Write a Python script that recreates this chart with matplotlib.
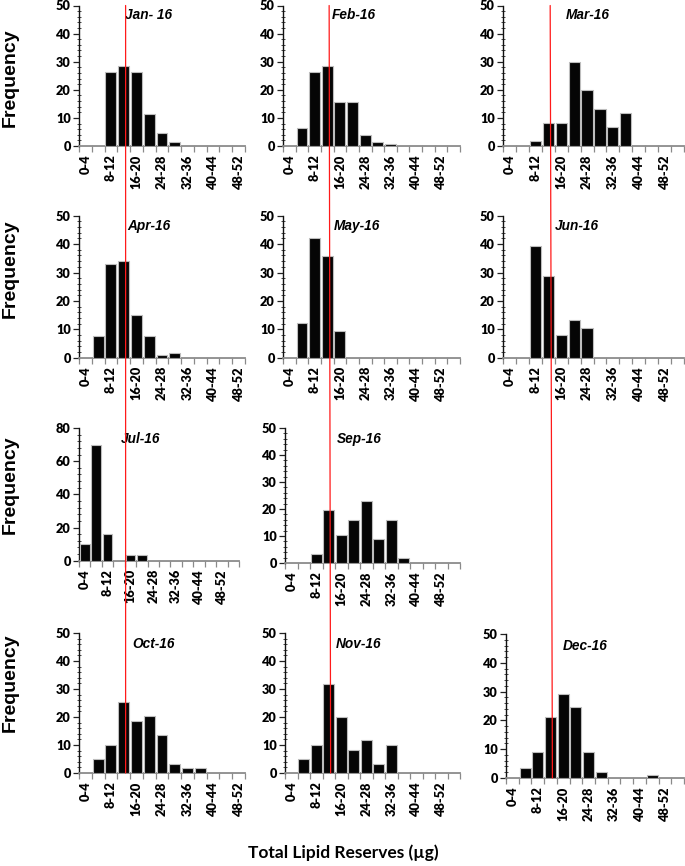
import matplotlib
matplotlib.use("Agg")
import matplotlib.pyplot as plt
from matplotlib.patches import ConnectionPatch
from matplotlib.ticker import MultipleLocator
import numpy as np

# ---------------- data ----------------
bin_labels = ["0-4", "4-8", "8-12", "12-16", "16-20", "20-24", "24-28",
              "28-32", "32-36", "36-40", "40-44", "44-48", "48-52", "52-56"]

months = ["Jan- 16", "Feb-16", "Mar-16", "Apr-16", "May-16", "Jun-16",
          "Jul-16", "Sep-16", "Oct-16", "Nov-16", "Dec-16"]

jan = [0, 0, 26.5, 28.4, 26.5, 11.4, 4.8, 1.4, 0, 0, 0, 0, 0]
feb = [0, 6.5, 26.5, 28.4, 15.7, 15.7, 4.0, 1.5, 0.8, 0, 0, 0, 0, 0]
mar = [0, 0, 1.7, 8.3, 8.3, 30.0, 20.0, 13.3, 6.7, 11.7, 0, 0, 0, 0]
apr = [0, 7.5, 33.0, 34.0, 15.0, 7.5, 1.0, 1.8, 0, 0, 0, 0, 0]
may = [0, 12.2, 42.3, 35.7, 9.3, 0, 0, 0, 0, 0, 0, 0, 0, 0]
jun = [0, 0, 39.3, 28.8, 7.9, 13.1, 10.5, 0, 0, 0, 0, 0, 0, 0]
jul = [10.0, 70.0, 16.0, 0, 3.5, 3.5, 0, 0, 0, 0, 0, 0, 0, 0]
sep = [0, 0, 3.5, 19.5, 10.5, 16.0, 23.0, 9.0, 16.0, 1.8, 0, 0, 0, 0]
oct_ = [0, 5.0, 10.0, 25.5, 18.5, 20.3, 13.5, 3.3, 1.7, 1.7, 0, 0, 0]
nov = [0, 5.0, 10.0, 31.7, 20.0, 8.3, 11.7, 3.3, 10.0, 0, 0, 0, 0, 0]
dec = [0, 3.3, 8.9, 21.2, 29.0, 24.6, 8.9, 2.2, 0, 0, 0, 1.1, 0, 0]

series = [jan, feb, mar, apr, may, jun, jul, sep, oct_, nov, dec]
ymax = [50, 50, 50, 50, 50, 50, 80, 50, 50, 50, 50]

annual_mean = 14.6   # µg, red reference line

# ---------------- layout (pixels in a 685x866 canvas) ----------------
W, H = 685, 866
# (left, top, zero_y, width)
boxes = [
    (79, 5.5, 146, 166), (283, 5.5, 146, 177), (503, 5.5, 146, 181),
    (79, 215.7, 357.7, 166), (283, 215.7, 357.7, 177), (503, 215.7, 357.7, 181),
    (79, 428, 560.7, 160), (285, 428, 563, 175),
    (79, 633, 773, 166), (285, 633, 773, 175), (506, 634, 778, 178),
]
title_x = [0.277, 0.275, 0.348, 0.293, 0.288, 0.287, 0.26, 0.294, 0.319, 0.288, 0.318]
title_y = [0.932, 0.932, 0.932, 0.925, 0.925, 0.925, 0.917, 0.918, 0.92, 0.92, 0.919]

tick_family = ["Lato", "DejaVu Sans"]
tick_size = 9.2

fig = plt.figure(figsize=(W / 100, H / 100), dpi=100)
axes = []
for i, (vals, box) in enumerate(zip(series, boxes)):
    left, top, zero, width = box
    ax = fig.add_axes([left / W, 1 - zero / H, width / W, (zero - top) / H])
    axes.append(ax)
    n = len(vals)
    x = np.arange(n)
    ax.bar(x, vals, width=0.86, color="#050505", edgecolor="#bdbdbd",
           linewidth=0.8, zorder=3)
    ax.set_xlim(-0.5, n - 0.5)
    ax.set_ylim(0, ymax[i])
    for s in ("top", "right"):
        ax.spines[s].set_visible(False)
    ax.spines["left"].set_color("#111111")
    ax.spines["left"].set_linewidth(1.0)
    ax.spines["bottom"].set_color("#8a8a8a")
    ax.spines["bottom"].set_linewidth(1.3)

    # y ticks
    step = 20 if ymax[i] == 80 else 10
    ax.yaxis.set_major_locator(MultipleLocator(step))
    ax.yaxis.set_minor_locator(MultipleLocator(step / 5 if ymax[i] == 50 else 4))
    ax.tick_params(axis="y", which="major", direction="out", length=4,
                   width=0.9, color="#222222", pad=2)
    ax.tick_params(axis="y", which="minor", direction="inout", length=3,
                   width=0.7, color="#444444")
    for lab in ax.get_yticklabels():
        lab.set_fontfamily(tick_family)
        lab.set_fontweight("heavy")
        lab.set_fontsize(tick_size)

    # x ticks: boundaries as ticks, labels on even categories
    ax.set_xticks(np.arange(n + 1) - 0.5)
    ax.set_xticklabels([])
    ax.tick_params(axis="x", which="major", direction="out", length=4,
                   width=0.9, color="#8a8a8a")
    centers = x[::2]
    ax.set_xticks(centers, minor=True)
    ax.set_xticklabels([bin_labels[c] for c in centers], minor=True,
                       rotation=90, fontfamily=tick_family,
                       fontweight="heavy", fontsize=tick_size)
    ax.tick_params(axis="x", which="minor", length=0, pad=6)

    ax.text(title_x[i], title_y[i], months[i], transform=ax.transAxes,
            ha="left", va="center", fontsize=9.8, fontweight="bold",
            fontstyle="italic", family=["Liberation Sans", "DejaVu Sans"])
    ax.set_facecolor("none")

# red mean lines running through each column
idx = (annual_mean - 2) / 4
columns = [(0, 8), (1, 9), (2, 10)]
for top_i, bot_i in columns:
    con = ConnectionPatch(xyA=(idx, ymax[top_i]), coordsA=axes[top_i].transData,
                          xyB=(idx, 0), coordsB=axes[bot_i].transData,
                          color="#ff1a1a", linewidth=0.9, zorder=10)
    fig.add_artist(con)

# Frequency labels
for yc in [78, 269, 485, 683]:
    fig.text(10 / W, 1 - yc / H, "Frequency", rotation=90, ha="center",
             va="center", fontsize=14, fontweight="bold",
             family=["Liberation Sans", "DejaVu Sans"])

fig.text(343 / W, 1 - 853 / H, "Total Lipid Reserves (µg)", ha="center",
         va="center", fontsize=12.5, fontweight="bold",
         family=["Lato", "DejaVu Sans"])

fig.savefig("out.png", dpi=100)
